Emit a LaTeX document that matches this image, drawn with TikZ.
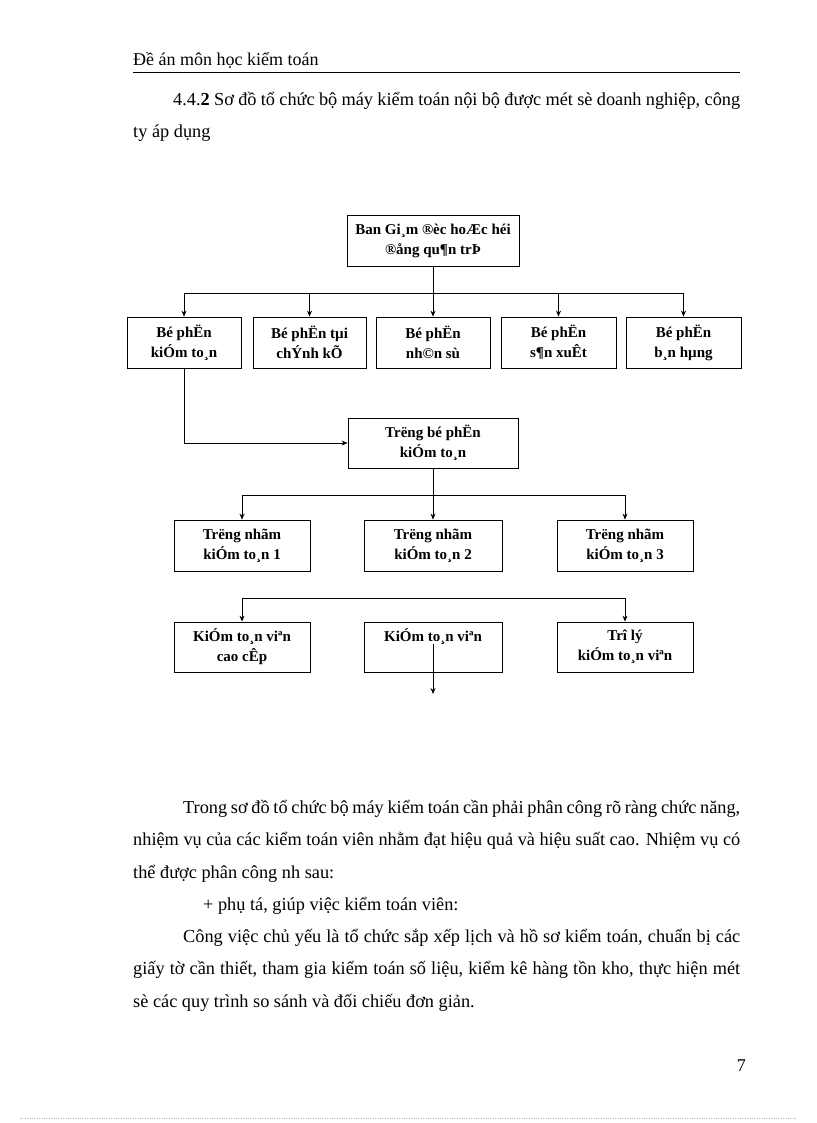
\documentclass[tikz,border=0pt]{standalone}
\usepackage{fontspec}
\setmainfont{Liberation Serif}
\usetikzlibrary{arrows.meta}
\begin{document}
\begin{tikzpicture}[x=1pt,y=-1pt,
  box/.style={draw,line width=0.8pt,font=\fontsize{15}{20}\selectfont\bfseries,align=center,inner sep=0pt},
  ln/.style={line width=0.8pt},
  ar/.style={line width=0.8pt,-{Stealth[length=6pt,width=5pt]}},
  para/.style={anchor=north west,inner sep=0pt,text width=607pt,align=justify,font=\fontsize{18.3}{32.5}\selectfont}]
\useasboundingbox (0,0) rectangle (816,1123);
\node[anchor=base west,inner sep=0pt,font=\fontsize{18}{20}\selectfont] (hdr) at (133,66) {Đề án môn học kiểm toán};
\draw[line width=0.6pt] (133,72) -- (740,72);
\node[para] (p1) at (133,92) {\hspace*{40pt}4.4.\textbf{2} Sơ đồ tổ chức bộ máy kiểm toán nội bộ được mét sè doanh nghiệp, công ty áp dụng};
% boxes
\def\bx#1#2#3#4#5#6{\node[box,minimum width=#4-#2,minimum height=#5-#3] (#1) at ({(#2+#4)/2},{(#3+#5)/2}) {#6};}
\bx{top}{347}{215}{519}{266}{Ban Gi¸m ®èc hoÆc héi\\®ång qu¶n trÞ}
\bx{a}{127}{317}{241}{368}{Bé phËn\\kiÓm to¸n}
\bx{b}{253}{317}{366}{368}{Bé phËn tµi\\chÝnh kÕ}
\bx{c}{376}{317}{490}{368}{Bé phËn\\nh©n sù}
\bx{d}{501}{317}{616}{368}{Bé phËn\\s¶n xuÊt}
\bx{e}{626}{317}{741}{368}{Bé phËn\\b¸n hµng}
\bx{tb}{348}{418}{518}{468}{Tr­ëng bé phËn\\kiÓm to¸n}
\bx{n1}{174}{520}{310}{571}{Tr­ëng nhãm\\kiÓm to¸n 1}
\bx{n2}{364}{520}{502}{571}{Tr­ëng nhãm\\kiÓm to¸n 2}
\bx{n3}{557}{520}{693}{571}{Tr­ëng nhãm\\kiÓm to¸n 3}
\bx{k1}{174}{622}{310}{672}{KiÓm to¸n viªn\\cao cÊp}
\bx{k2}{364}{622}{502}{672}{}
\node[font=\fontsize{15}{20}\selectfont\bfseries,anchor=north,inner sep=0pt] (k2t) at (433,628) {KiÓm to¸n viªn};
\bx{k3}{557}{622}{693}{672}{Trî lý\\kiÓm to¸n viªn}
% connectors
\coordinate (j1) at (433,293);
\draw[ln] (top.south) -- (j1);
\draw[ln] (a.north|-j1) -- (e.north|-j1);
\foreach \t in {a,b,c,d,e} \draw[ar] (\t.north|-j1) -- (\t.north);
\draw[ar] (a.south) |- (tb.west);
\coordinate (j2) at (433,495);
\draw[ln] (tb.south) -- (j2);
\draw[ln] (n1.north|-j2) -- (n3.north|-j2);
\foreach \t in {n1,n2,n3} \draw[ar] (\t.north|-j2) -- (\t.north);
\coordinate (j3) at (433,598);
\draw[ln] (k1.north|-j3) -- (k3.north|-j3);
\draw[ar] (k1.north|-j3) -- (k1.north);
\draw[ar] (k3.north|-j3) -- (k3.north);
\coordinate (out) at (433,694);
\draw[ar] (k2t.south) -- (out);
% body text
\node[para] (p2) at (133,800) {\hspace*{50pt}Trong sơ đồ tổ chức bộ máy kiểm toán cần phải phân công rõ ràng chức năng, nhiệm vụ của các kiểm toán viên nhằm đạt hiệu quả và hiệu suất cao. Nhiệm vụ có thể được phân công nh­ sau:};
\node[para] (p3) at (133,897) {\hspace*{70pt}+ phụ tá, giúp việc kiểm toán viên:};
\node[para] (p4) at (133,929) {\hspace*{50pt}Công việc chủ yếu là tổ chức sắp xếp lịch và hồ sơ kiểm toán, chuẩn bị các giấy tờ cần thiết, tham gia kiểm toán số liệu, kiểm kê hàng tồn kho, thực hiện mét sè các quy trình so sánh và đối chiếu đơn giản.};
\node[anchor=base east,inner sep=0pt,font=\fontsize{18}{20}\selectfont] (pg) at (746,1071) {7};
\draw[dotted,gray!60] (20,1118) -- (796,1118);
\end{tikzpicture}
\end{document}
